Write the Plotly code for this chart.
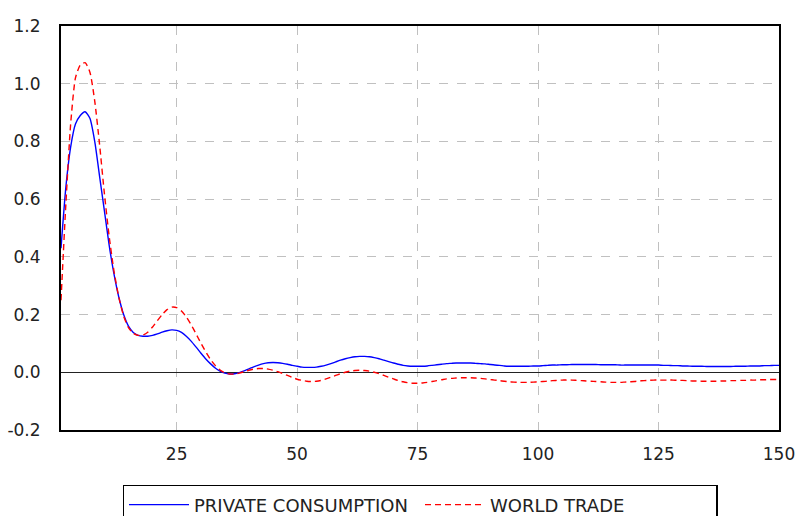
import plotly.graph_objects as go

periods = list(range(1, 151))

private_consumption = [
    0.43, 0.64, 0.78, 0.86, 0.89, 0.903, 0.88, 0.80, 0.68, 0.56,
    0.44, 0.34, 0.26, 0.20, 0.16, 0.138, 0.128, 0.125, 0.125, 0.128,
    0.133, 0.139, 0.144, 0.147, 0.145, 0.138, 0.125, 0.108, 0.088, 0.067,
    0.047, 0.030, 0.015, 0.004, -0.003, -0.006, -0.005, -0.001, 0.005, 0.012,
    0.019, 0.025, 0.030, 0.033, 0.034, 0.033, 0.031, 0.028, 0.024, 0.021,
    0.018, 0.017, 0.017, 0.018, 0.021, 0.025, 0.030, 0.036, 0.042, 0.047,
    0.051, 0.054, 0.055, 0.055, 0.054, 0.051, 0.047, 0.042, 0.037, 0.032,
    0.028, 0.024, 0.022, 0.021, 0.021, 0.021, 0.022, 0.024, 0.026, 0.028,
    0.030, 0.031, 0.032, 0.032, 0.032, 0.032, 0.031, 0.030, 0.029, 0.027,
    0.025, 0.024, 0.022, 0.021, 0.021, 0.021, 0.021, 0.021, 0.022, 0.022,
    0.023, 0.024, 0.025, 0.025, 0.026, 0.026, 0.027, 0.027, 0.027, 0.027,
    0.027, 0.027, 0.026, 0.026, 0.026, 0.026, 0.025, 0.025, 0.025, 0.025,
    0.025, 0.025, 0.025, 0.025, 0.025, 0.024, 0.024, 0.023, 0.023, 0.022,
    0.022, 0.021, 0.021, 0.021, 0.020, 0.020, 0.020, 0.020, 0.020, 0.020,
    0.021, 0.021, 0.021, 0.022, 0.022, 0.022, 0.023, 0.023, 0.024, 0.024,
]

world_trade = [
    0.25, 0.58, 0.86, 1.02, 1.065, 1.073, 1.04, 0.94, 0.79, 0.62,
    0.47, 0.35, 0.26, 0.195, 0.155, 0.135, 0.128, 0.129, 0.139, 0.157,
    0.179, 0.200, 0.217, 0.226, 0.224, 0.212, 0.192, 0.165, 0.134, 0.102,
    0.072, 0.045, 0.024, 0.008, -0.002, -0.006, -0.006, -0.003, 0.002, 0.007,
    0.011, 0.013, 0.013, 0.011, 0.007, 0.002, -0.004, -0.011, -0.018, -0.024,
    -0.028, -0.031, -0.032, -0.031, -0.028, -0.023, -0.017, -0.011, -0.005, 0.000,
    0.004, 0.006, 0.007, 0.006, 0.004, 0.000, -0.005, -0.011, -0.017, -0.023,
    -0.029, -0.033, -0.036, -0.038, -0.038, -0.037, -0.035, -0.032, -0.029, -0.026,
    -0.023, -0.021, -0.020, -0.019, -0.019, -0.019, -0.020, -0.021, -0.023, -0.025,
    -0.027, -0.029, -0.031, -0.033, -0.034, -0.035, -0.035, -0.035, -0.034, -0.033,
    -0.032, -0.031, -0.029, -0.028, -0.027, -0.027, -0.027, -0.028, -0.029, -0.030,
    -0.031, -0.032, -0.033, -0.034, -0.035, -0.035, -0.035, -0.034, -0.033, -0.032,
    -0.030, -0.029, -0.028, -0.027, -0.027, -0.027, -0.027, -0.027, -0.028, -0.028,
    -0.029, -0.030, -0.030, -0.031, -0.031, -0.031, -0.031, -0.030, -0.030, -0.029,
    -0.029, -0.028, -0.028, -0.027, -0.027, -0.026, -0.026, -0.025, -0.025, -0.025,
]

x_ticks = [25, 50, 75, 100, 125, 150]
y_ticks = [-0.2, 0.0, 0.2, 0.4, 0.6, 0.8, 1.0, 1.2]
y_tick_labels = ["-0.2", "0.0", "0.2", "0.4", "0.6", "0.8", "1.0", "1.2"]

FONT = "DejaVu Sans"

fig = go.Figure()
fig.add_trace(go.Scatter(
    x=periods, y=private_consumption, mode="lines", name="PRIVATE CONSUMPTION",
    line=dict(color="#0000FF", width=1.4, shape="spline", smoothing=0.6),
))
fig.add_trace(go.Scatter(
    x=periods, y=world_trade, mode="lines", name="WORLD TRADE",
    line=dict(color="#FF0000", width=1.4, dash="6px,4px", shape="spline", smoothing=0.6),
))

fig.update_layout(
    width=796, height=516,
    margin=dict(l=61, r=17, t=26, b=86, autoexpand=False),
    paper_bgcolor="white", plot_bgcolor="white",
    font=dict(family=FONT, size=17, color="#222222"),
    showlegend=True,
    legend=dict(
        orientation="h", x=0.5, xanchor="center", y=-0.136, yanchor="top",
        bordercolor="black", borderwidth=1.5, bgcolor="white",
        font=dict(family=FONT, size=18, color="#222222"),
        itemwidth=60,
        entrywidth=221, entrywidthmode="pixels",
    ),
)
fig.update_xaxes(
    range=[1, 150], tickvals=x_ticks, ticks="",
    showgrid=True, gridcolor="#c0c0c0", gridwidth=1, griddash="dash",
    showline=True, linecolor="black", linewidth=2, mirror=True,
    zeroline=False, ticklabelstandoff=8,
)
fig.update_yaxes(
    range=[-0.2, 1.2], tickvals=y_ticks, ticktext=y_tick_labels, ticks="",
    showgrid=True, gridcolor="#c0c0c0", gridwidth=1, griddash="dash",
    showline=True, linecolor="black", linewidth=2, mirror=True,
    zeroline=True, zerolinecolor="#222222", zerolinewidth=1,
    ticklabelstandoff=15,
)

fig.write_html("out.html")
